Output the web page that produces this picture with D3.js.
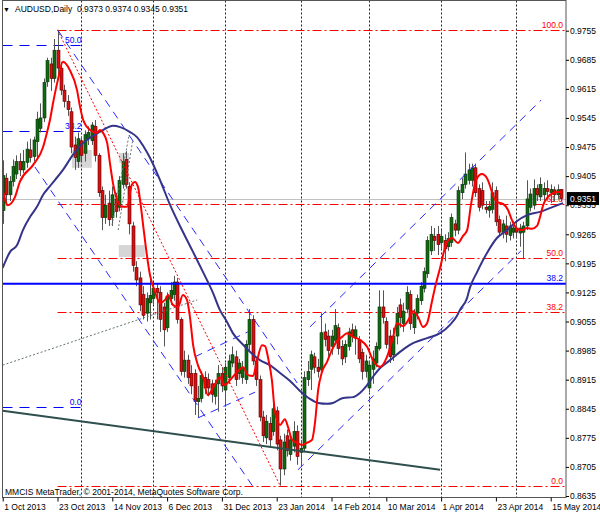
<!DOCTYPE html>
<html><head><meta charset="utf-8">
<script src="https://cdn.jsdelivr.net/npm/d3@7/dist/d3.min.js"></script>
<style>body{margin:0;background:#fff}svg{display:block}text{font-family:"Liberation Sans",Arial,sans-serif}</style>
</head><body>
<svg id="c" width="600" height="514"></svg>
<script>
// ---------- data ----------
const symbolTitle = "AUDUSD,Daily";
const lastQuote = ["0.9373", "0.9374", "0.9345", "0.9351"];
const lastPrice = 0.9351;
const copyright = "MMCIS MetaTrader, \u00A9 2001-2014, MetaQuotes Software Corp.";
const xTickIdx = [0, 16, 32, 48, 64, 80, 96, 112, 128, 144, 160];
const xTickLabels = ["1 Oct 2013", "23 Oct 2013", "14 Nov 2013", "6 Dec 2013", "31 Dec 2013", "23 Jan 2014",
  "14 Feb 2014", "10 Mar 2014", "1 Apr 2014", "23 Apr 2014", "15 May 2014"];
const monthStartIdx = [23, 44, 65, 87, 107, 128, 150];
const yTicks = [0.9755, 0.9685, 0.9615, 0.9545, 0.9475, 0.9405, 0.9335, 0.9265, 0.9195, 0.9125, 0.9055,
  0.8985, 0.8915, 0.8845, 0.8775, 0.8705, 0.8635];

const opens = [0.9322,0.9400,0.9360,0.9392,0.9410,0.9440,0.9420,0.9438,0.9468,0.9452,
0.9488,0.9520,0.9545,0.9632,0.9675,0.9640,0.9708,0.9665,0.9612,0.9585,
0.9560,0.9480,0.9440,0.9490,0.9460,0.9495,0.9490,0.9525,0.9455,0.9370,
0.9305,0.9340,0.9305,0.9350,0.9330,0.9385,0.9445,0.9380,0.9285,0.9185,
0.9160,0.9120,0.9075,0.9100,0.9110,0.9135,0.9125,0.9090,0.9040,0.9110,
0.9120,0.9150,0.9060,0.8935,0.8962,0.8930,0.8930,0.8862,0.8870,0.8920,
0.8915,0.8905,0.8875,0.8905,0.8930,0.8890,0.8920,0.8955,0.8970,0.8930,
0.8920,0.8915,0.9000,0.9060,0.8960,0.8915,0.8825,0.8775,0.8810,0.8790,
0.8840,0.8770,0.8700,0.8780,0.8735,0.8755,0.8790,0.8740,0.8750,0.8915,
0.8940,0.8970,0.8945,0.8940,0.9030,0.9020,0.8995,0.9010,0.9040,0.8995,
0.8970,0.8995,0.9035,0.9015,0.9010,0.8980,0.8935,0.8895,0.8940,0.8955,
0.8990,0.9090,0.9055,0.9020,0.8975,0.9020,0.9095,0.9050,0.9085,0.9120,
0.9040,0.9075,0.9105,0.9135,0.9170,0.9225,0.9260,0.9265,0.9245,0.9250,
0.9235,0.9245,0.9290,0.9275,0.9365,0.9385,0.9395,0.9395,0.9425,0.9375,
0.9370,0.9330,0.9323,0.9325,0.9370,0.9300,0.9270,0.9285,0.9262,0.9270,
0.9280,0.9268,0.9270,0.9285,0.9330,0.9335,0.9375,0.9355,0.9360,0.9375,
0.9365,0.9372,0.9360,0.9373];
const highs = [0.9443,0.9412,0.9405,0.9445,0.9455,0.9460,0.9468,0.9488,0.9495,0.9500,
0.9560,0.9580,0.9640,0.9690,0.9690,0.9735,0.9757,0.9680,0.9625,0.9600,
0.9570,0.9500,0.9510,0.9500,0.9515,0.9525,0.9535,0.9540,0.9460,0.9380,
0.9360,0.9370,0.9380,0.9365,0.9405,0.9460,0.9465,0.9390,0.9295,0.9200,
0.9175,0.9140,0.9125,0.9155,0.9150,0.9145,0.9140,0.9100,0.9125,0.9150,
0.9165,0.9160,0.9065,0.8985,0.8975,0.8950,0.8940,0.8900,0.8935,0.8935,
0.8930,0.8915,0.8915,0.8950,0.8945,0.8955,0.8975,0.8995,0.8985,0.8965,
0.8960,0.9010,0.9085,0.9070,0.8970,0.8925,0.8840,0.8830,0.8825,0.8860,
0.8850,0.8780,0.8785,0.8795,0.8785,0.8815,0.8805,0.8770,0.8935,0.8960,
0.8985,0.8980,0.8965,0.9075,0.9050,0.9035,0.9035,0.9085,0.9050,0.9010,
0.9010,0.9040,0.9050,0.9045,0.9020,0.8990,0.8975,0.8960,0.8985,0.9005,
0.9130,0.9130,0.9065,0.9035,0.9040,0.9090,0.9110,0.9100,0.9140,0.9130,
0.9085,0.9120,0.9150,0.9185,0.9260,0.9285,0.9280,0.9285,0.9275,0.9265,
0.9270,0.9315,0.9300,0.9380,0.9400,0.9462,0.9435,0.9435,0.9435,0.9385,
0.9390,0.9345,0.9345,0.9390,0.9380,0.9310,0.9300,0.9310,0.9295,0.9295,
0.9300,0.9290,0.9295,0.9395,0.9375,0.9397,0.9385,0.9402,0.9390,0.9395,
0.9385,0.9380,0.9385,0.9374];
const lows = [0.9290,0.9335,0.9345,0.9380,0.9398,0.9405,0.9412,0.9425,0.9438,0.9440,
0.9448,0.9510,0.9535,0.9620,0.9610,0.9630,0.9650,0.9600,0.9570,0.9550,
0.9460,0.9420,0.9425,0.9440,0.9440,0.9480,0.9480,0.9440,0.9355,0.9275,
0.9290,0.9285,0.9285,0.9305,0.9320,0.9375,0.9375,0.9265,0.9175,0.9140,
0.9080,0.9060,0.9055,0.9060,0.9095,0.9060,0.9030,0.8995,0.9030,0.9095,
0.9105,0.9050,0.8925,0.8920,0.8905,0.8880,0.8830,0.8825,0.8860,0.8880,
0.8875,0.8860,0.8855,0.8838,0.8885,0.8850,0.8905,0.8945,0.8900,0.8915,
0.8905,0.8905,0.8985,0.8950,0.8900,0.8815,0.8765,0.8760,0.8755,0.8780,
0.8745,0.8660,0.8685,0.8730,0.8720,0.8740,0.8710,0.8705,0.8740,0.8900,
0.8890,0.8930,0.8920,0.8930,0.8995,0.8970,0.8975,0.9000,0.8975,0.8950,
0.8955,0.8985,0.9005,0.8975,0.8955,0.8915,0.8920,0.8885,0.8905,0.8945,
0.8985,0.9050,0.8990,0.8955,0.8960,0.9000,0.9040,0.9030,0.9075,0.9035,
0.9025,0.9060,0.9095,0.9125,0.9160,0.9215,0.9225,0.9215,0.9230,0.9200,
0.9225,0.9235,0.9260,0.9265,0.9350,0.9375,0.9385,0.9380,0.9355,0.9320,
0.9325,0.9315,0.9305,0.9315,0.9285,0.9260,0.9255,0.9245,0.9250,0.9255,
0.9255,0.9235,0.9205,0.9275,0.9320,0.9325,0.9345,0.9345,0.9345,0.9350,
0.9340,0.9345,0.9350,0.9345];
const closes = [0.9406,0.9360,0.9392,0.9428,0.9440,0.9420,0.9440,0.9470,0.9450,0.9492,
0.9542,0.9545,0.9630,0.9683,0.9640,0.9708,0.9665,0.9612,0.9585,0.9565,
0.9475,0.9450,0.9495,0.9455,0.9505,0.9510,0.9528,0.9455,0.9365,0.9305,
0.9335,0.9300,0.9360,0.9320,0.9395,0.9440,0.9385,0.9290,0.9190,0.9155,
0.9095,0.9070,0.9110,0.9118,0.9135,0.9125,0.9060,0.9035,0.9115,0.9130,
0.9150,0.9060,0.8935,0.8962,0.8920,0.8900,0.8863,0.8870,0.8925,0.8895,
0.8895,0.8880,0.8905,0.8930,0.8900,0.8945,0.8960,0.8975,0.8915,0.8955,
0.8945,0.9000,0.9060,0.8960,0.8915,0.8825,0.8780,0.8815,0.8770,0.8845,
0.8760,0.8700,0.8765,0.8745,0.8770,0.8790,0.8730,0.8750,0.8920,0.8935,
0.8975,0.8945,0.8935,0.9028,0.9012,0.8985,0.9020,0.9045,0.8990,0.8965,
0.9000,0.9030,0.9020,0.9035,0.8965,0.8935,0.8960,0.8950,0.8965,0.8995,
0.9090,0.9065,0.9000,0.8970,0.9020,0.9075,0.9065,0.9080,0.9125,0.9050,
0.9075,0.9110,0.9140,0.9175,0.9250,0.9265,0.9250,0.9240,0.9260,0.9230,
0.9255,0.9305,0.9275,0.9370,0.9385,0.9410,0.9420,0.9425,0.9365,0.9330,
0.9335,0.9325,0.9332,0.9365,0.9295,0.9270,0.9290,0.9265,0.9285,0.9280,
0.9270,0.9280,0.9285,0.9350,0.9362,0.9375,0.9360,0.9385,0.9375,0.9368,
0.9373,0.9360,0.9372,0.9351];

// moving averages: [bar index, price]
const fastMA = [[0,0.9372],[1.5,0.9335],[3.6,0.9355],[5,0.9391],[8.9,0.9432],[11.8,0.9475],[12.9,0.9509],
[13.8,0.9540],[14.7,0.9581],[16.1,0.9636],[17.6,0.9680],[19.6,0.9660],[21.7,0.9612],[22.6,0.9571],[23.5,0.9540],
[25.5,0.9516],[27.5,0.9509],[28.4,0.9516],[29.3,0.9509],[30.5,0.9485],[31.3,0.9437],[32.2,0.9388],[33.4,0.9348],
[34.8,0.9331],[36.3,0.9331],[37.7,0.9384],[38.6,0.9391],[39.5,0.9379],[40.1,0.9348],[41,0.9287],[42.1,0.9215],
[43,0.9167],[44.5,0.9126],[45.9,0.9100],[47.4,0.9107],[48.3,0.9119],[49.7,0.9095],[51.2,0.9090],[52.6,0.9119],
[53.8,0.9107],[54.7,0.9064],[55.6,0.8998],[57,0.8950],[58.5,0.8921],[59.9,0.8878],[61.4,0.8895],[63.4,0.8921],
[64.9,0.8902],[66.4,0.8914],[68.4,0.8933],[70.2,0.8945],[71.6,0.8926],[73.1,0.8924],[74.2,0.8958],[75.7,0.8998],
[76.6,0.8996],[77.5,0.8967],[78.6,0.8914],[79.5,0.8837],[81,0.8806],[82.4,0.8820],[83.3,0.8801],[84.5,0.8770],
[85.9,0.8763],[87.4,0.8758],[88.8,0.8763],[90.3,0.8770],[91.2,0.8813],[92.1,0.8890],[93.2,0.8933],[94.7,0.8958],
[96.1,0.8986],[97.6,0.9008],[99.1,0.9018],[100.5,0.9027],[102.3,0.9018],[104.3,0.9011],[106.4,0.8994],
[108.1,0.8962],[110.2,0.8946],[112.2,0.8970],[114,0.9018],[115.1,0.9051],[116.9,0.9044],[118.9,0.9066],
[119.8,0.9080],[121.3,0.9066],[122.7,0.9042],[123.9,0.9051],[125.3,0.9102],[126.2,0.9136],[127.7,0.9184],
[129.7,0.9246],[131.2,0.9256],[132.9,0.9244],[134.4,0.9261],[135.6,0.9275],[136.7,0.9335],[137.6,0.9376],
[138.5,0.9400],[139.9,0.9410],[141.4,0.9400],[142.3,0.9381],[143.2,0.9357],[144.3,0.9343],[146.1,0.9338],
[147.5,0.9324],[148.7,0.9299],[150.2,0.9278],[151.6,0.9275],[153.1,0.9280],[154.5,0.9278],[156,0.9285],
[156.9,0.9307],[157.8,0.9335],[159.2,0.9355],[160.7,0.9364],[162.1,0.9367],[163.3,0.9367]];
const slowMA = [[0,0.9184],[2.1,0.9222],[4.2,0.9239],[5.9,0.9275],[8,0.9307],[10,0.9331],[11.8,0.9360],
[13.8,0.9381],[15.3,0.9396],[17.6,0.9420],[20.5,0.9456],[23.5,0.9485],[26.4,0.9502],[29.3,0.9516],[32.2,0.9526],
[34.3,0.9523],[37.2,0.9511],[39.2,0.9499],[41,0.9478],[43,0.9449],[45.9,0.9396],[48.9,0.9335],[52.6,0.9271],
[55.6,0.9222],[58.5,0.9174],[61.4,0.9124],[63.4,0.9083],[65.5,0.9054],[67.2,0.9027],[70.2,0.8999],[72.2,0.8982],
[75.1,0.8962],[78,0.8950],[81,0.8931],[83.9,0.8912],[86.8,0.8888],[89.7,0.8869],[92.1,0.8859],[94.7,0.8857],
[96.4,0.8859],[99.4,0.8871],[102.3,0.8873],[104.3,0.8883],[106.4,0.8902],[108.1,0.8922],[110.2,0.8943],
[113.1,0.8962],[116,0.8982],[118.9,0.8999],[123.9,0.9015],[127.7,0.9027],[130.6,0.9047],[132.6,0.9068],
[133.5,0.9083],[135.6,0.9112],[136.4,0.9136],[138.5,0.9174],[141.4,0.9220],[144.3,0.9256],[147.2,0.9275],
[150.2,0.9297],[153.1,0.9311],[156.9,0.9319],[160.7,0.9331],[163.6,0.9340]];

// red Fibonacci retracement (high bar -> low bar)
const fibAnchors = [[16, 0.9757], [81, 0.8660]];
const fibLevels = [100, 61.8, 50, 38.2, 0];
const fibLabels = ["100.0", "61.8", "50.0", "38.2", "0.0"];
// blue Fibonacci at the left
const blueFibZero = 0.8849, blueFibRange = 0.1741, blueFibSpan = [0, 23];
const blueFibLevels = [50, 38.2, 0];
const blueFibLabels = ["50.0", "38.2", "0.0"];
// solid blue level
const blueLevelPrice = 0.9146, blueLevelLabel = "38.2";
// drawn objects: [ [barIndex, price], [barIndex, price] ]
const downChannel = [[[16.2, 0.9755], [86.0, 0.8907]], [[9.4, 0.9427], [73.7, 0.8650]]];
const flagLines = [[[56.1, 0.8970], [71.6, 0.9030]], [[57.0, 0.8823], [73.7, 0.8885]]];
const upChannel = [[[86.2, 0.8698], [151.3, 0.9225]], [[89.7, 0.9042], [157.2, 0.9588]]];
const supportLine = [[0, 0.8840], [127.7, 0.8698]];
const grayDotted = [[[0, 0.8950], [56.8, 0.9107]], [[31.9, 0.9287], [36.9, 0.9504]], [[33.7, 0.9275], [38.0, 0.9492]]];
const boxes = [[20.2, 26.0, 0.9468, 0.9425], [34.0, 36.9, 0.9461, 0.9437], [33.9, 41.5, 0.9239, 0.9210]];

// ---------- drawing ----------
const svg = d3.select("#c");
const L = 2.5, R = 566, T = 0.5, B = 497.5;
const x = d3.scaleLinear().domain([0, 160]).range([2.7, 550.7]);
const y = d3.scaleLinear().domain([0.8635, 0.9755]).range([496, 30.7]);
const fs = "8.5px";

svg.append("rect").attr("width", 600).attr("height", 514).attr("fill", "#fff");
svg.append("clipPath").attr("id", "clip").append("rect")
  .attr("x", L).attr("y", T).attr("width", R - L).attr("height", B - T);
const plot = svg.append("g").attr("clip-path", "url(#clip)");

// rectangles (background objects)
plot.selectAll(".box").data(boxes).join("rect")
  .attr("x", d => x(d[0])).attr("width", d => x(d[1]) - x(d[0]))
  .attr("y", d => y(d[2])).attr("height", d => y(d[3]) - y(d[2]))
  .attr("fill", "#d6d6d6");

// vertical grid at month starts
plot.selectAll(".vg").data(monthStartIdx).join("line")
  .attr("x1", d => Math.round(x(d)) + 0.5).attr("x2", d => Math.round(x(d)) + 0.5)
  .attr("y1", T).attr("y2", B)
  .attr("stroke", "#222").attr("stroke-width", 1).attr("stroke-dasharray", "2,2");

// bid line
plot.append("line").attr("x1", L).attr("x2", R)
  .attr("y1", Math.round(y(lastPrice)) + 0.5).attr("y2", Math.round(y(lastPrice)) + 0.5)
  .attr("stroke", "#c0c0c0");

// red fibo levels
const fHigh = fibAnchors[0][1], fLow = fibAnchors[1][1];
const fibPrice = lv => fLow + (fHigh - fLow) * lv / 100;
plot.selectAll(".fib").data(fibLevels).join("line")
  .attr("x1", x(fibAnchors[0][0])).attr("x2", R)
  .attr("y1", d => Math.round(y(fibPrice(d))) + 0.5).attr("y2", d => Math.round(y(fibPrice(d))) + 0.5)
  .attr("stroke", "#ff0000").attr("stroke-dasharray", "9,3,2,3");
plot.selectAll(".fibt").data(fibLevels).join("text")
  .attr("x", R - 3).attr("y", d => y(fibPrice(d)) - 2)
  .attr("text-anchor", "end").attr("font-size", fs).attr("fill", "#ff0000")
  .text((d, i) => fibLabels[i]);

// blue left fibo
const bfPrice = lv => blueFibZero + blueFibRange * lv / 100;
plot.selectAll(".bfib").data(blueFibLevels).join("line")
  .attr("x1", L).attr("x2", x(blueFibSpan[1]))
  .attr("y1", d => Math.round(y(bfPrice(d))) + 0.5).attr("y2", d => Math.round(y(bfPrice(d))) + 0.5)
  .attr("stroke", "#0000ff").attr("stroke-dasharray", "10,7");
plot.selectAll(".bfibt").data(blueFibLevels).join("text")
  .attr("x", x(blueFibSpan[1])).attr("y", d => y(bfPrice(d)) - 2)
  .attr("text-anchor", "end").attr("font-size", fs).attr("fill", "#0000ff")
  .text((d, i) => blueFibLabels[i]);

// candles
const idx = d3.range(closes.length);
const cg = plot.append("g");
cg.selectAll(".wick").data(idx).join("line")
  .attr("x1", i => Math.round(x(i)) + 0.5).attr("x2", i => Math.round(x(i)) + 0.5)
  .attr("y1", i => y(highs[i])).attr("y2", i => y(lows[i]))
  .attr("stroke", "#555").attr("stroke-width", 1);
cg.selectAll(".body").data(idx).join("rect")
  .attr("x", i => Math.round(x(i)) - 1).attr("width", 3)
  .attr("y", i => y(Math.max(opens[i], closes[i])))
  .attr("height", i => Math.max(1, Math.abs(y(opens[i]) - y(closes[i]))))
  .attr("fill", i => closes[i] >= opens[i] ? "#106b10" : "#d81010")
  .attr("stroke", i => closes[i] >= opens[i] ? "#0a300a" : "#5a0000").attr("stroke-width", 0.6);

// helper for two-point lines
const seg = (g, data, color, width, dash) => g.selectAll(null).data(data).join("line")
  .attr("x1", d => x(d[0][0])).attr("y1", d => y(d[0][1]))
  .attr("x2", d => x(d[1][0])).attr("y2", d => y(d[1][1]))
  .attr("stroke", color).attr("stroke-width", width).attr("stroke-dasharray", dash);

const og = plot.append("g");
seg(og, grayDotted, "#5f7272", 1, "2,2");
seg(og, [fibAnchors], "#ff0000", 1, "2,2");
seg(og, downChannel, "#2828ff", 1, "8,6");
seg(og, flagLines, "#2828ff", 1, "8,6");
seg(og, upChannel, "#2828ff", 1, "8,6");
seg(og, [supportLine], "#2f4f4f", 2, null);

// solid blue level
og.append("line").attr("x1", L).attr("x2", R)
  .attr("y1", y(blueLevelPrice)).attr("y2", y(blueLevelPrice))
  .attr("stroke", "#0000ff").attr("stroke-width", 2);
og.append("text").attr("x", R - 3).attr("y", y(blueLevelPrice) - 3)
  .attr("text-anchor", "end").attr("font-size", fs).attr("fill", "#0000ff").text(blueLevelLabel);

// moving averages
const line = d3.line().x(d => x(d[0])).y(d => y(d[1])).curve(d3.curveMonotoneX);
og.append("path").attr("d", line(slowMA)).attr("fill", "none").attr("stroke", "#34348a").attr("stroke-width", 2);
og.append("path").attr("d", line(fastMA)).attr("fill", "none").attr("stroke", "#ff0000").attr("stroke-width", 2);

// frame
svg.append("rect").attr("x", L).attr("y", T).attr("width", R - L).attr("height", B - T)
  .attr("fill", "none").attr("stroke", "#555");

// axes
const ya = svg.append("g").attr("transform", `translate(${R},0)`)
  .call(d3.axisRight(y).tickValues(yTicks).tickSize(3).tickPadding(1).tickFormat(d3.format(".4f")));
ya.select(".domain").remove();
ya.selectAll("text").attr("font-size", fs).attr("fill", "#000").attr("font-family", "Liberation Sans, Arial, sans-serif");
ya.selectAll("line").attr("stroke", "#000");

const xa = svg.append("g").attr("transform", `translate(0,${B})`)
  .call(d3.axisBottom(x).tickValues(xTickIdx).tickSize(4).tickPadding(2).tickFormat((d, i) => xTickLabels[i]));
xa.select(".domain").remove();
xa.selectAll("text").attr("font-size", fs).attr("fill", "#000").attr("text-anchor", "start").attr("dx", 1)
  .attr("font-family", "Liberation Sans, Arial, sans-serif");
xa.selectAll("line").attr("stroke", "#000");

// last price box
svg.append("rect").attr("x", R + 1).attr("y", y(lastPrice) - 6.5).attr("width", 32).attr("height", 13).attr("fill", "#000");
svg.append("text").attr("x", R + 4).attr("y", y(lastPrice) + 3).attr("font-size", fs).attr("fill", "#fff").text(lastQuote[3]);

// header
svg.append("text").attr("x", 3).attr("y", 12).attr("font-size", "7px").attr("font-family", "DejaVu Sans").text("\u25BC");
svg.append("text").attr("x", 15).attr("y", 12).attr("font-size", fs).text(symbolTitle);
svg.append("text").attr("x", 77).attr("y", 12).attr("font-size", fs).text(lastQuote.join(" "));
// copyright
svg.append("text").attr("x", 5).attr("y", 495).attr("font-size", fs).text(copyright);
</script>
</body></html>
